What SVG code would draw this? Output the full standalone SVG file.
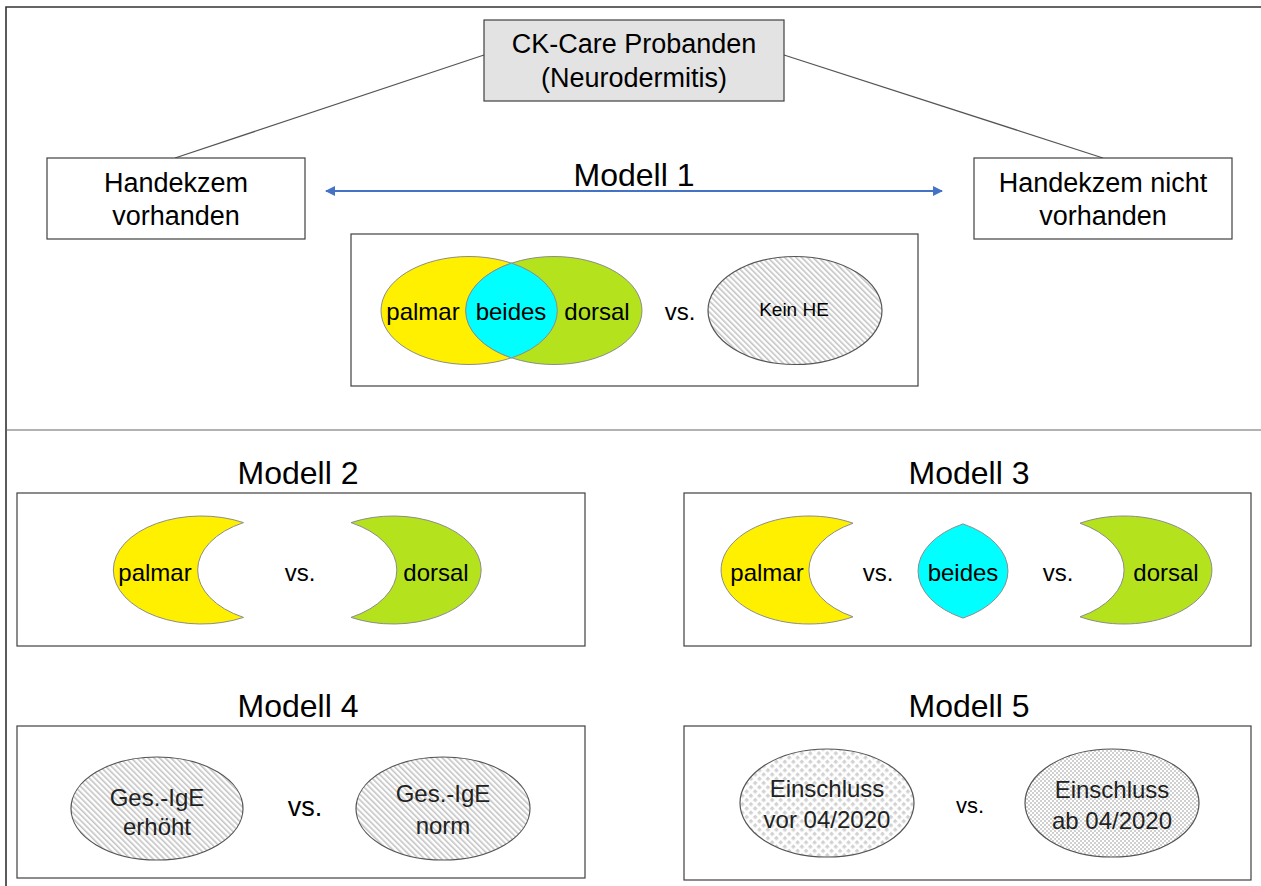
<svg xmlns="http://www.w3.org/2000/svg" width="1261" height="886" viewBox="0 0 1261 886">
<style>
  text { font-family: "Liberation Sans", Arial, sans-serif; fill: #000; text-anchor: middle; }
  .box { fill: #fff; stroke: #404040; stroke-width: 1.2; }
  .title { font-size: 32px; }
  .hl { font-size: 27px; }
  .lbl { font-size: 24px; }
  .vs { font-size: 24px; }
  .sh { stroke: #8c8c8c; stroke-width: 1; }
  .gt { fill: #222; font-size: 24px; }
  .frame { fill: none; stroke: #333; stroke-width: 1.6; }
  .pat { stroke: #555; stroke-width: 1.2; }
</style>
<defs>
  <pattern id="hatch" width="4" height="4" patternUnits="userSpaceOnUse" patternTransform="rotate(-45)">
    <rect width="4" height="4" fill="#fff"/>
    <rect width="1.6" height="4" fill="#c4c4c4"/>
  </pattern>
  <pattern id="checkL" width="6" height="6" patternUnits="userSpaceOnUse" patternTransform="rotate(45)">
    <rect width="6" height="6" fill="#fff"/>
    <rect width="3.4" height="3.4" fill="#d2d2d2"/>
  </pattern>
  <pattern id="checkS" width="4" height="4" patternUnits="userSpaceOnUse">
    <rect width="4" height="4" fill="#fff"/>
    <rect width="2" height="2" fill="#d0d0d0"/>
    <rect x="2" y="2" width="2" height="2" fill="#d0d0d0"/>
  </pattern>
  <marker id="arr" viewBox="0 0 10 10" refX="9" refY="5" markerWidth="6" markerHeight="5" orient="auto-start-reverse">
    <path d="M0,0 L10,5 L0,10 Z" fill="#4472C4"/>
  </marker>
</defs>

<path class="frame" d="M1266,7 H6 V890"/>
<path d="M6,430 H1262" stroke="#666" stroke-width="1.2" fill="none"/>

<g id="connectors">
  <path d="M484,55 L175,158" stroke="#555" stroke-width="1.3" fill="none"/>
  <path d="M784,55 L1103,158" stroke="#555" stroke-width="1.3" fill="none"/>
  <path d="M326,191 L942,191" stroke="#4472C4" stroke-width="2" fill="none" marker-start="url(#arr)" marker-end="url(#arr)"/>
</g>

<g id="root">
  <rect x="484" y="20" width="300" height="81" fill="#e3e3e3" stroke="#404040" stroke-width="1.2"/>
  <text x="634" y="53" font-size="27">CK-Care Probanden</text>
  <text x="634" y="87" font-size="27">(Neurodermitis)</text>
</g>

<g id="he-yes">
  <rect class="box" x="47" y="158" width="258" height="81"/>
  <text class="hl" x="176" y="192">Handekzem</text>
  <text class="hl" x="176" y="225">vorhanden</text>
</g>

<g id="he-no">
  <rect class="box" x="974" y="158" width="258" height="81"/>
  <text class="hl" x="1103" y="192">Handekzem nicht</text>
  <text class="hl" x="1103" y="225">vorhanden</text>
</g>

<g id="modell1">
  <text class="title" x="634" y="186">Modell 1</text>
  <rect class="box" x="351" y="234" width="567" height="152"/>
  <ellipse class="sh" cx="469" cy="310.5" rx="88" ry="54" fill="#FFF000"/>
  <ellipse class="sh" cx="554" cy="310.5" rx="88" ry="54" fill="#B4E31E"/>
  <path class="sh" fill="#00FFFF" d="M511.5,263.1 A88,54 0 0,1 511.5,357.9 A88,54 0 0,1 511.5,263.1 Z"/>
  <text class="lbl" x="423" y="320">palmar</text>
  <text class="lbl" x="511" y="320">beides</text>
  <text class="lbl" x="597" y="320">dorsal</text>
  <text class="vs" x="680" y="320">vs.</text>
  <ellipse class="pat" cx="795" cy="310.5" rx="87" ry="54" fill="url(#hatch)"/>
  <text x="794" y="316" font-size="19" fill="#222">Kein HE</text>
</g>

<g id="modell2">
  <text class="title" x="298" y="484">Modell 2</text>
  <rect class="box" x="17" y="493" width="568" height="153"/>
  <path class="sh" fill="#FFF000" d="M243.5,522.6 A88,54 0 1,0 243.5,617.4 A88,54 0 0,1 243.5,522.6 Z"/>
  <path class="sh" fill="#B4E31E" d="M351,522.6 A88,54 0 1,1 351,617.4 A88,54 0 0,0 351,522.6 Z"/>
  <text class="lbl" x="155" y="581">palmar</text>
  <text class="vs" x="300" y="581">vs.</text>
  <text class="lbl" x="436" y="581">dorsal</text>
</g>

<g id="modell3">
  <text class="title" x="969" y="484">Modell 3</text>
  <rect class="box" x="684" y="493" width="567" height="153"/>
  <path class="sh" fill="#FFF000" d="M853,523.2 A88,54 0 1,0 853,616.8 A88,54 0 0,1 853,523.2 Z"/>
  <path class="sh" fill="#00FFFF" d="M963,523.9 A88,54 0 0,1 963,618.1 A88,54 0 0,1 963,523.9 Z"/>
  <path class="sh" fill="#B4E31E" d="M1080,523.2 A88,54 0 1,1 1080,616.8 A88,54 0 0,0 1080,523.2 Z"/>
  <text class="lbl" x="767" y="581">palmar</text>
  <text class="vs" x="878" y="581">vs.</text>
  <text class="lbl" x="963" y="581">beides</text>
  <text class="vs" x="1058" y="581">vs.</text>
  <text class="lbl" x="1166" y="581">dorsal</text>
</g>

<g id="modell4">
  <text class="title" x="298" y="717">Modell 4</text>
  <rect class="box" x="17" y="726" width="568" height="152"/>
  <ellipse class="pat" cx="157" cy="808.5" rx="86" ry="51.5" fill="url(#hatch)"/>
  <ellipse class="pat" cx="443" cy="808.5" rx="87" ry="51.5" fill="url(#hatch)"/>
  <text class="gt" x="157" y="806">Ges.-IgE</text>
  <text class="gt" x="157" y="835">erhöht</text>
  <text x="305" y="816" font-size="27">vs.</text>
  <text class="gt" x="443" y="802">Ges.-IgE</text>
  <text class="gt" x="443" y="834">norm</text>
</g>

<g id="modell5">
  <text class="title" x="969" y="717">Modell 5</text>
  <rect class="box" x="684" y="726" width="567" height="154"/>
  <ellipse class="pat" cx="827" cy="803" rx="87" ry="54" fill="url(#checkL)"/>
  <ellipse class="pat" cx="1112" cy="803" rx="87" ry="54" fill="url(#checkS)"/>
  <text class="gt" x="827" y="797">Einschluss</text>
  <text class="gt" x="827" y="828">vor 04/2020</text>
  <text x="970" y="813" font-size="22">vs.</text>
  <text class="gt" x="1112" y="798">Einschluss</text>
  <text class="gt" x="1112" y="829">ab 04/2020</text>
</g>
</svg>
